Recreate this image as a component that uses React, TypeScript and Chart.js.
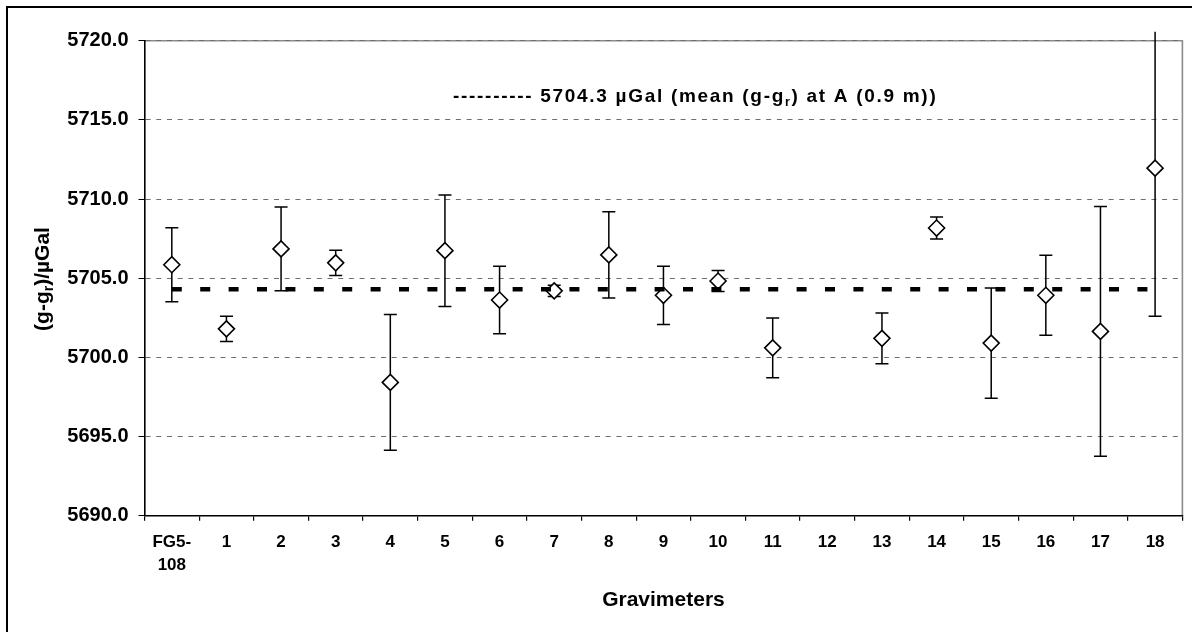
import React, { useEffect, useRef } from 'react';
import { Chart, registerables } from 'chart.js';

Chart.register(...registerables);

const categories: (string | string[])[] = [
  ['FG5-', '108'], '1', '2', '3', '4', '5', '6', '7', '8', '9',
  '10', '11', '12', '13', '14', '15', '16', '17', '18',
];
const gValues: (number | null)[] = [
  5705.85, 5701.8, 5706.85, 5705.97, 5698.42, 5706.74, 5703.62, 5704.2, 5706.47, 5703.92,
  5704.82, 5700.6, null, 5701.2, 5708.17, 5700.9, 5703.92, 5701.64, 5711.95,
];
const gErrors: (number | null)[] = [
  2.33, 0.8, 2.64, 0.8, 4.28, 3.52, 2.13, 0.35, 2.72, 1.84,
  0.66, 1.88, null, 1.6, 0.69, 3.48, 2.53, 7.89, 9.35,
];
const meanValue = 5704.3;
const meanValues: number[] = categories.map(() => meanValue);
const yMin = 5690;
const yMax = 5720;
const yStep = 5;

const FONT = "'Liberation Sans', Arial, Helvetica, sans-serif";

type Part = { t: string; sub?: boolean };

function drawRich(ctx: CanvasRenderingContext2D, parts: Part[], x: number, y: number, size: number, subSize: number, subShift: number, center: boolean) {
  const widths = parts.map((p) => {
    ctx.font = `bold ${p.sub ? subSize : size}px ${FONT}`;
    return ctx.measureText(p.t).width;
  });
  const total = widths.reduce((a, b) => a + b, 0);
  let cx = center ? x - total / 2 : x;
  ctx.textAlign = 'left';
  ctx.textBaseline = 'alphabetic';
  parts.forEach((p, i) => {
    ctx.font = `bold ${p.sub ? subSize : size}px ${FONT}`;
    ctx.fillText(p.t, cx, p.sub ? y + subShift : y);
    cx += widths[i];
  });
}

const framePlugin = {
  id: 'frame',
  beforeDraw(chart: any) {
    const { ctx, chartArea: a } = chart;
    ctx.save();
    ctx.fillStyle = '#ffffff';
    ctx.fillRect(0, 0, chart.width, chart.height);
    ctx.strokeStyle = '#000000';
    ctx.lineWidth = 2;
    ctx.beginPath();
    ctx.moveTo(7, chart.height + 2);
    ctx.lineTo(7, 7);
    ctx.lineTo(chart.width + 2, 7);
    ctx.stroke();
    ctx.strokeStyle = '#8c8c8c';
    ctx.lineWidth = 1.6;
    ctx.beginPath();
    ctx.moveTo(a.left, a.top);
    ctx.lineTo(a.right, a.top);
    ctx.lineTo(a.right, a.bottom);
    ctx.stroke();
    ctx.restore();
  },
};

const errorBarPlugin = {
  id: 'errorBars',
  beforeDatasetsDraw(chart: any) {
    const { ctx, chartArea } = chart;
    const meta = chart.getDatasetMeta(0);
    const ys = chart.scales.y;
    ctx.save();
    ctx.strokeStyle = '#000000';
    ctx.lineWidth = 1.5;
    meta.data.forEach((pt: any, i: number) => {
      const v = gValues[i];
      const e = gErrors[i];
      if (v == null || e == null) return;
      const x = pt.x;
      const limitTop = chartArea.top - 9;
      let yTop = ys.getPixelForValue(v + e);
      const yBot = ys.getPixelForValue(v - e);
      let clipped = false;
      if (yTop < limitTop) {
        yTop = limitTop;
        clipped = true;
      }
      ctx.beginPath();
      ctx.moveTo(x, yTop);
      ctx.lineTo(x, yBot);
      if (!clipped) {
        ctx.moveTo(x - 6.5, yTop);
        ctx.lineTo(x + 6.5, yTop);
      }
      ctx.moveTo(x - 6.5, yBot);
      ctx.lineTo(x + 6.5, yBot);
      ctx.stroke();
    });
    ctx.restore();
  },
};

const textPlugin = {
  id: 'texts',
  afterDraw(chart: any) {
    const { ctx } = chart;
    ctx.save();
    ctx.fillStyle = '#000000';
    // y axis title
    ctx.save();
    ctx.translate(49, 279);
    ctx.rotate(-Math.PI / 2);
    drawRich(ctx, [{ t: '(g-g' }, { t: 'r', sub: true }, { t: ')/µGal' }], 0, 0, 21, 14, 4, true);
    ctx.restore();
    // legend
    ctx.save();
    try { (ctx as any).letterSpacing = '1.7px'; } catch (e) { /* ignore */ }
    drawRich(
      ctx,
      [{ t: '---------- 5704.3 µGal (mean (g-g' }, { t: 'r', sub: true }, { t: ') at A (0.9 m))' }],
      453, 101.7, 19, 12.5, 4, false,
    );
    ctx.restore();
    ctx.restore();
  },
};

export default function App() {
  const ref = useRef<HTMLCanvasElement | null>(null);

  useEffect(() => {
    if (!ref.current) return;
    const chart = new Chart(ref.current, {
      type: 'line',
      data: {
        labels: categories as any,
        datasets: [
          {
            label: '(g-gr)',
            data: gValues as any,
            showLine: false,
            pointStyle: 'rectRot',
            pointRadius: 8,
            pointHoverRadius: 8,
            pointBackgroundColor: '#ffffff',
            pointBorderColor: '#000000',
            pointBorderWidth: 1.6,
            order: 1,
          },
          {
            label: 'mean',
            data: meanValues,
            borderColor: '#000000',
            borderWidth: 4.5,
            borderDash: [10, 18.4],
            pointRadius: 0,
            fill: false,
            tension: 0,
            order: 0,
          },
        ],
      },
      options: {
        responsive: false,
        animation: false,
        layout: { padding: { left: 0, top: 40.7, right: 9.3, bottom: 0 } },
        plugins: {
          legend: { display: false },
          tooltip: { enabled: false },
          title: { display: false },
        },
        scales: {
          x: {
            type: 'category',
            offset: true,
            grid: {
              display: true,
              offset: true,
              drawOnChartArea: false,
              drawTicks: true,
              tickLength: 5,
              color: '#000000',
              tickColor: '#000000',
              lineWidth: 1.2,
            },
            border: { display: true, color: '#000000', width: 1.6 },
            ticks: {
              color: '#000000',
              font: { family: FONT, size: 17, weight: 'bold', lineHeight: 1.35 },
              padding: 10,
              maxRotation: 0,
              autoSkip: false,
            },
            title: {
              display: true,
              text: 'Gravimeters',
              color: '#000000',
              font: { family: FONT, size: 21, weight: 'bold', lineHeight: 1.2 },
              padding: { top: 0, bottom: 19.4 },
            },
            afterFit(scale: any) {
              scale.height = 116.3;
            },
          },
          y: {
            type: 'linear',
            min: yMin,
            max: yMax,
            ticks: {
              stepSize: yStep,
              color: '#000000',
              font: { family: FONT, size: 20, weight: 'bold' },
              padding: 10,
              callback: (v: any) => Number(v).toFixed(1),
            },
            grid: {
              color: '#6e6e6e',
              lineWidth: 1,
              drawTicks: true,
              tickLength: 6,
              tickColor: '#000000',
              tickBorderDash: [],
            } as any,
            border: { display: true, color: '#000000', width: 1.6, dash: [5, 5.7] } as any,
            afterFit(scale: any) {
              scale.width = 144.5;
            },
          },
        },
      },
      plugins: [framePlugin, errorBarPlugin, textPlugin],
    });
    return () => chart.destroy();
  }, []);

  return (
    <canvas
      ref={ref}
      width={1192}
      height={632}
      style={{ position: 'fixed', left: 0, top: 0, width: 1192, height: 632 }}
    />
  );
}
